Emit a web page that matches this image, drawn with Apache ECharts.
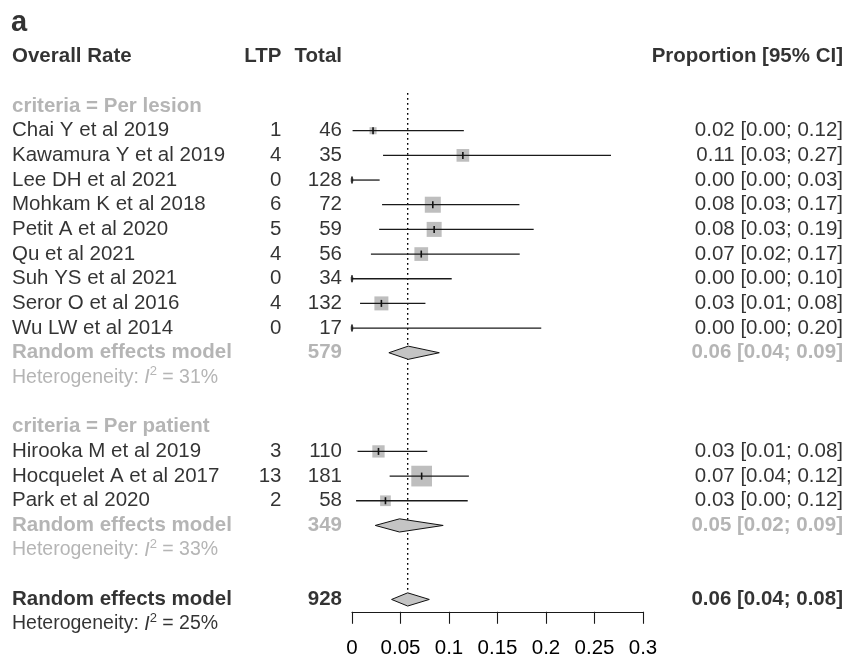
<!DOCTYPE html>
<html><head><meta charset="utf-8">
<script src="https://cdn.jsdelivr.net/npm/echarts@6/dist/echarts.min.js"></script>
<style>html,body{margin:0;padding:0;background:#fff}#c{width:845px;height:658px}</style>
</head><body><div id="c"></div>
<script>
// ---------- data ----------
const subgroupLabels = ['criteria = Per lesion', 'criteria = Per patient'];

const lesionStudies = ['Chai Y et al 2019','Kawamura Y et al 2019','Lee DH et al 2021','Mohkam K et al 2018','Petit A et al 2020','Qu et al 2021','Suh YS et al 2021','Seror O et al 2016','Wu LW et al 2014'];
const lesionEvents = [1, 4, 0, 6, 5, 4, 0, 4, 0];
const lesionTotal = [46, 35, 128, 72, 59, 56, 34, 132, 17];
const lesionEst = [0.0217, 0.1143, 0, 0.0833, 0.0847, 0.0714, 0, 0.0303, 0];
const lesionLower = [0.0006, 0.032, 0, 0.031, 0.028, 0.0195, 0, 0.0083, 0];
const lesionUpper = [0.1153, 0.267, 0.0285, 0.1726, 0.1873, 0.1729, 0.1028, 0.0757, 0.1951];
const lesionWeight = [2.7, 8.7, 0.5, 13.9, 12.2, 10.2, 0.5, 10.6, 0.5];
const lesionCI = ['0.02 [0.00; 0.12]','0.11 [0.03; 0.27]','0.00 [0.00; 0.03]','0.08 [0.03; 0.17]','0.08 [0.03; 0.19]','0.07 [0.02; 0.17]','0.00 [0.00; 0.10]','0.03 [0.01; 0.08]','0.00 [0.00; 0.20]'];

const patientStudies = ['Hirooka M et al 2019','Hocquelet A et al 2017','Park et al 2020'];
const patientEvents = [3, 13, 2];
const patientTotal = [110, 181, 58];
const patientEst = [0.0273, 0.0718, 0.0345];
const patientLower = [0.0057, 0.0388, 0.0042];
const patientUpper = [0.0776, 0.1205, 0.1193];
const patientWeight = [8.2, 23.2, 6.2];
const patientCI = ['0.03 [0.01; 0.08]','0.07 [0.04; 0.12]','0.03 [0.00; 0.12]'];

const pooledNames = ['Random effects model', 'Random effects model', 'Random effects model'];
const pooledTotals = [579, 349, 928];
const pooledEst = [0.058, 0.049, 0.0574];
const pooledLower = [0.038, 0.024, 0.0408];
const pooledUpper = [0.090, 0.094, 0.0797];
const pooledCI = ['0.06 [0.04; 0.09]', '0.05 [0.02; 0.09]', '0.06 [0.04; 0.08]'];
const hetI2 = [31, 33, 25];

const headers = ['Overall Rate', 'LTP', 'Total', 'Proportion [95% CI]'];
const xTicks = [0, 0.05, 0.1, 0.15, 0.2, 0.25, 0.3];

// ---------- layout / style ----------
const W = 845, H = 658;
const ROW0 = 56.7, ROWH = 24.67;
const FONT = "'Liberation Sans', Arial, Helvetica, sans-serif";
const BLACK = '#000000', GRAY = '#a3a3a3';
const FS = 20.5, FS_HET = 19.5;
const X_NAME = 12, X_LTP = 281.5, X_TOTAL = 342, X_CI = 843;
const SQ_MAX = 20.7, SQ_MIN = 3.5;
const DIA_H = 6.6;

const groups = [
  {names: lesionStudies, ev: lesionEvents, n: lesionTotal, est: lesionEst, lo: lesionLower, hi: lesionUpper, w: lesionWeight, ci: lesionCI},
  {names: patientStudies, ev: patientEvents, n: patientTotal, est: patientEst, lo: patientLower, hi: patientUpper, w: patientWeight, ci: patientCI}
];
const wMax = Math.max(...lesionWeight, ...patientWeight);

const nameItems = [], ltpItems = [], totalItems = [], ciItems = [];
const studyMarks = [], diamondMarks = [];
function txt(arr, x, r, text, opts) {
  arr.push({value: [x, r], label: Object.assign({formatter: String(text)}, opts || {})});
}
const bold = (c) => ({fontWeight: 'bold', color: c});
function hetItem(r, v, color) {
  nameItems.push({value: [X_NAME, r], label: {
    formatter: '{n|Heterogeneity: }{i|I}{s|2}{n| = ' + v + '%}',
    rich: {
      n: {fontSize: FS_HET, color: color, fontFamily: FONT, lineHeight: 24},
      i: {fontSize: FS_HET, color: color, fontFamily: FONT, fontStyle: 'italic', lineHeight: 24},
      s: {fontSize: 13, color: color, fontFamily: FONT, lineHeight: 13, verticalAlign: 'top'}
    }
  }});
}

// title letter
txt(nameItems, X_NAME - 1, (23 - ROW0) / ROWH, 'a', {fontWeight: 'bold', fontSize: 29});
// header row
txt(nameItems, X_NAME, 0, headers[0], bold(BLACK));
txt(ltpItems, X_LTP, 0, headers[1], bold(BLACK));
txt(totalItems, X_TOTAL, 0, headers[2], bold(BLACK));
txt(ciItems, X_CI, 0, headers[3], bold(BLACK));

let r = 2;
groups.forEach((g, gi) => {
  txt(nameItems, X_NAME, r, subgroupLabels[gi], bold(GRAY)); r++;
  g.names.forEach((nm, i) => {
    txt(nameItems, X_NAME, r, nm);
    txt(ltpItems, X_LTP, r, g.ev[i]);
    txt(totalItems, X_TOTAL, r, g.n[i]);
    txt(ciItems, X_CI, r, g.ci[i]);
    const side = Math.max(SQ_MIN, SQ_MAX * Math.sqrt(g.w[i] / wMax));
    studyMarks.push([r, g.est[i], g.lo[i], g.hi[i], side]);
    r++;
  });
  txt(nameItems, X_NAME, r, pooledNames[gi], bold(GRAY));
  txt(totalItems, X_TOTAL, r, pooledTotals[gi], bold(GRAY));
  txt(ciItems, X_CI, r, pooledCI[gi], bold(GRAY));
  diamondMarks.push([r, pooledEst[gi], pooledLower[gi], pooledUpper[gi]]);
  r++;
  hetItem(r, hetI2[gi], GRAY); r++;
  r++;
});
const overallRow = r;
txt(nameItems, X_NAME, r, pooledNames[2], bold(BLACK));
txt(totalItems, X_TOTAL, r, pooledTotals[2], bold(BLACK));
txt(ciItems, X_CI, r, pooledCI[2], bold(BLACK));
diamondMarks.push([r, pooledEst[2], pooledLower[2], pooledUpper[2]]);
r++;
hetItem(r, hetI2[2], BLACK);

const AXIS_ROW = overallRow + 0.5;

function textSeries(data, align) {
  return {
    type: 'scatter', xAxisIndex: 0, yAxisIndex: 0, data: data,
    symbolSize: 1, itemStyle: {color: 'rgba(0,0,0,0)'}, silent: true,
    label: {show: true, position: 'inside', align: align, verticalAlign: 'middle',
      fontFamily: FONT, fontSize: FS, color: BLACK}
  };
}

const chart = echarts.init(document.getElementById('c'), null, {renderer: 'canvas'});
chart.setOption({
  animation: false,
  backgroundColor: '#ffffff',
  grid: [
    {left: 0, top: 0, width: W, height: H, containLabel: false, outerBoundsMode: 'none'},
    {left: 352, top: ROW0, width: 291, height: AXIS_ROW * ROWH, containLabel: false, outerBoundsMode: 'none'}
  ],
  xAxis: [
    {gridIndex: 0, type: 'value', min: 0, max: W, show: false},
    {gridIndex: 1, type: 'value', position: 'bottom', min: xTicks[0], max: xTicks[xTicks.length - 1], interval: 0.05,
      splitLine: {show: false},
      axisLine: {show: true, onZero: false, lineStyle: {color: '#1a1a1a', width: 1.1}},
      axisTick: {show: true, length: 12, lineStyle: {color: '#1a1a1a', width: 1.1}},
      axisLabel: {margin: 26, fontSize: 20.5, fontFamily: FONT, color: '#000',
        formatter: (v) => String(+v.toFixed(2))}}
  ],
  yAxis: [
    {gridIndex: 0, type: 'value', inverse: true, min: -ROW0 / ROWH, max: (H - ROW0) / ROWH, show: false},
    {gridIndex: 1, type: 'value', inverse: true, min: 0, max: AXIS_ROW, show: false}
  ],
  series: [
    textSeries(nameItems, 'left'),
    textSeries(ltpItems, 'right'),
    textSeries(totalItems, 'right'),
    textSeries(ciItems, 'right'),
    {
      type: 'line', xAxisIndex: 1, yAxisIndex: 1, silent: true, symbol: 'none', z: 1,
      data: [[pooledEst[2], 1.47], [pooledEst[2], overallRow]],
      lineStyle: {color: '#000', width: 1.4, type: [1.8, 3.2]}
    },
    {
      type: 'custom', xAxisIndex: 1, yAxisIndex: 1, silent: true, z: 3,
      data: studyMarks,
      renderItem: function (params, api) {
        const row = api.value(0), side = api.value(4);
        const pE = api.coord([api.value(1), row]);
        const pL = api.coord([api.value(2), row]);
        const pH = api.coord([api.value(3), row]);
        return {type: 'group', children: [
          {type: 'rect', shape: {x: pE[0] - side / 2, y: pE[1] - side / 2, width: side, height: side},
            style: {fill: '#bebebe'}},
          {type: 'line', shape: {x1: pL[0], y1: pL[1], x2: pH[0], y2: pH[1]},
            style: {stroke: '#1a1a1a', lineWidth: 1.3}},
          {type: 'line', shape: {x1: pE[0], y1: pE[1] - 3.5, x2: pE[0], y2: pE[1] + 3.5},
            style: {stroke: '#111', lineWidth: 1.6}}
        ]};
      }
    },
    {
      type: 'custom', xAxisIndex: 1, yAxisIndex: 1, silent: true, z: 4,
      data: diamondMarks,
      renderItem: function (params, api) {
        const row = api.value(0);
        const pE = api.coord([api.value(1), row]);
        const pL = api.coord([api.value(2), row]);
        const pH = api.coord([api.value(3), row]);
        return {type: 'polygon', shape: {points: [
            [pL[0], pL[1]], [pE[0], pE[1] - DIA_H], [pH[0], pH[1]], [pE[0], pE[1] + DIA_H]]},
          style: {fill: '#c4c4c4', stroke: '#111', lineWidth: 1}};
      }
    }
  ]
});
</script></body></html>
